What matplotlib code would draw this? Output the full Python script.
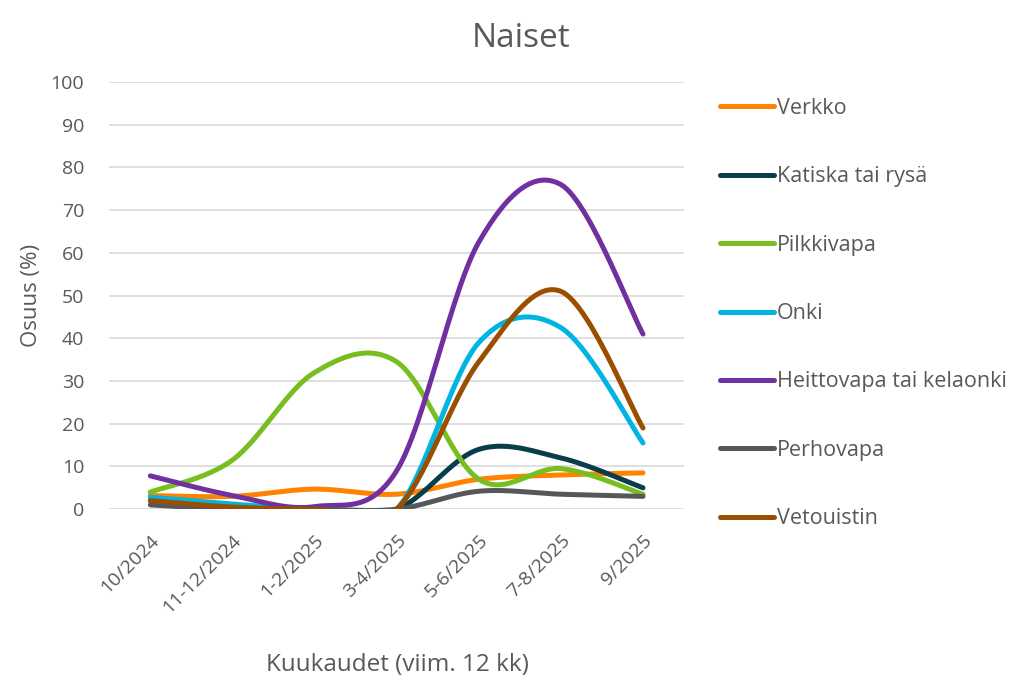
import numpy as np
import matplotlib.pyplot as plt

plt.rcParams['font.family'] = ['Open Sans', 'DejaVu Sans']

# data
months = ["10/2024", "11-12/2024", "1-2/2025", "3-4/2025", "5-6/2025", "7-8/2025", "9/2025"]
verkko = [3.2, 3.0, 4.7, 3.5, 7.0, 8.0, 8.5]
katiska = [2.0, 0.5, 0.0, 0.0, 14.0, 12.0, 5.0]
pilkkivapa = [4.0, 11.5, 32.0, 34.5, 7.0, 9.5, 3.5]
onki = [2.8, 1.2, 0.0, 0.0, 39.0, 42.5, 15.5]
heittovapa = [7.8, 3.2, 0.6, 9.0, 62.5, 76.0, 41.0]
perhovapa = [1.0, 0.0, 0.0, 0.0, 4.2, 3.5, 3.0]
vetouistin = [2.0, 0.5, 0.0, 0.0, 34.5, 51.0, 19.0]

names = ["Verkko", "Katiska tai rysä", "Pilkkivapa", "Onki",
         "Heittovapa tai kelaonki", "Perhovapa", "Vetouistin"]
series = [verkko, katiska, pilkkivapa, onki, heittovapa, perhovapa, vetouistin]
colors = ["#FF8200", "#0A3D4A", "#78BE20", "#00B5E2", "#7030A0", "#54585A", "#9A4F00"]

text_col = "#595959"


def smooth(x, y, n=30):
    # excel-like smoothed line (catmull-rom bezier between the points)
    x = np.asarray(x, float)
    y = np.asarray(y, float)
    px = np.concatenate([[x[0]], x, [x[-1]]])
    py = np.concatenate([[y[0]], y, [y[-1]]])
    xs, ys = [], []
    t = np.linspace(0, 1, n)
    for i in range(1, len(px) - 2):
        p0 = np.array([px[i], py[i]])
        p3 = np.array([px[i + 1], py[i + 1]])
        c1 = p0 + (np.array([px[i + 1], py[i + 1]]) - np.array([px[i - 1], py[i - 1]])) / 6
        c2 = p3 - (np.array([px[i + 2], py[i + 2]]) - np.array([px[i], py[i]])) / 6
        b = ((1 - t) ** 3)[:, None] * p0 + (3 * (1 - t) ** 2 * t)[:, None] * c1 \
            + (3 * (1 - t) * t ** 2)[:, None] * c2 + (t ** 3)[:, None] * p3
        xs.extend(b[:, 0])
        ys.extend(b[:, 1])
    return np.array(xs), np.array(ys)


fig = plt.figure(figsize=(10.21, 6.78), dpi=100)
ax = fig.add_axes([0.107, 0.249, 0.563, 0.630])

x = np.arange(len(months))
for name, vals, c in zip(names, series, colors):
    sx, sy = smooth(x, vals)
    ax.plot(sx, sy, color=c, lw=3.6, label=name, solid_capstyle='round')

ax.set_xlim(-0.5, len(months) - 0.5)
ax.set_ylim(0, 100)
ax.set_yticks(range(0, 101, 10))
ax.set_xticks(x)
ax.set_xticklabels(months, rotation=45, ha='right', rotation_mode='anchor')
ax.grid(axis='y', color='#d9d9d9', lw=1.2)
ax.set_axisbelow(True)
for s in ax.spines.values():
    s.set_visible(False)
ax.tick_params(length=0, labelsize=14, colors=text_col)
ax.tick_params(axis='y', pad=18)
ax.tick_params(axis='x', pad=16)

ax.set_ylabel("Osuus (%)", fontsize=16, color=text_col, labelpad=6)
fig.text(0.389, 0.01, "Kuukaudet (viim. 12 kk)", fontsize=17.5, color=text_col, ha='center')
fig.text(0.51, 0.93, "Naiset", fontsize=24, color=text_col, ha='center')

fig.legend(loc='upper left', bbox_to_anchor=(0.686, 0.884), frameon=False,
           fontsize=15.5, labelcolor=text_col, labelspacing=2.2,
           handlelength=2.5, handletextpad=0.15)

plt.savefig('out.png')
